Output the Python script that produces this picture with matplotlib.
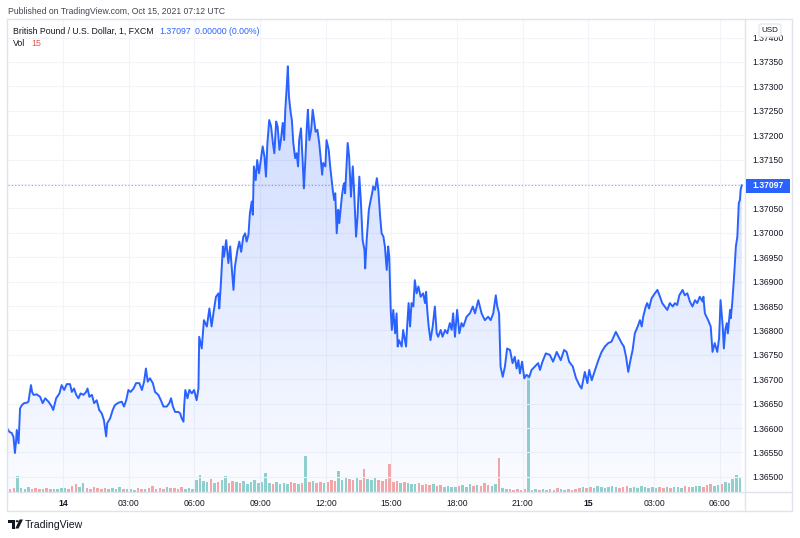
import numpy as np
import matplotlib
matplotlib.use("Agg")
import matplotlib.pyplot as plt
from matplotlib.patches import Rectangle, FancyBboxPatch, Polygon, Circle

# ==========================================================
# DATA
# time = minutes since 2021-10-14 00:00 UTC, 1-minute GBP/USD (FXCM)
# ==========================================================

minutes = [
    -153, -147, -141, -136, -132, -129, -127, -122, -118, -113,
    -107, -99, -95, -88, -85, -81, -72, -63, -56, -49,
    -40, -31, -27, -19, -10, -4, 3, 10, 19, 24,
    30, 36, 42, 48, 56, 63, 67, 72, 79, 85,
    92, 99, 106, 112, 118, 121, 129, 136, 142, 152,
    161, 167, 173, 179, 185, 193, 200, 209, 216, 222,
    227, 232, 238, 246, 252, 261, 268, 275, 284, 291,
    296, 301, 307, 316, 321, 325, 330, 332, 335, 341,
    346, 353, 359, 366, 371,
    373, 380, 386, 394, 401, 407, 412, 419, 426, 428,
    432, 438, 441, 447, 453, 458, 462, 467, 471, 478,
    483, 488, 494, 499, 503, 508, 512, 517, 520, 523,
    528, 532, 537, 543, 547, 552, 556, 560, 565, 570,
    575, 579, 584, 588, 593, 597, 602, 606, 609, 613,
    616, 619, 624, 627, 631, 636, 640, 644, 647, 652,
    656, 660, 664, 668, 671, 675, 680, 684, 688, 692,
    697, 702, 706, 710, 713, 719, 722,
    728, 732, 739, 743, 746, 750, 754, 757, 764, 768,
    771, 773, 780, 784, 789, 794, 797, 803, 807, 812,
    816, 821, 826, 828, 832, 838, 843, 847, 850, 855,
    860, 864, 869, 873, 878, 882, 887, 891, 894, 898,
    901, 905, 910, 914, 917, 921, 928, 932, 940, 943,
    947, 951, 955, 960, 964, 969, 974, 980, 987, 992,
    995, 998, 1002, 1007, 1013, 1019, 1024, 1028, 1035, 1040,
    1047, 1053, 1060, 1065, 1069, 1074, 1080, 1086, 1092, 1097,
    1106, 1115, 1123, 1129, 1138, 1147, 1156, 1165, 1172, 1179,
    1186, 1190, 1195, 1199, 1205, 1211, 1217, 1225, 1232, 1238,
    1243, 1248, 1252, 1258, 1264, 1270, 1278, 1284, 1293, 1302,
    1307, 1314, 1323, 1334, 1343, 1353, 1364, 1373, 1380, 1387,
    1397, 1406, 1415, 1421, 1430, 1437, 1442, 1449, 1458, 1467,
    1476, 1485, 1494, 1503, 1515, 1522, 1531, 1537, 1543, 1549,
    1555, 1561, 1567, 1575, 1581, 1586, 1590, 1597, 1601, 1606,
    1613, 1622, 1629, 1636, 1642, 1649, 1656, 1663, 1671, 1677,
    1683, 1689, 1698, 1704, 1711, 1718, 1725, 1732, 1738, 1745,
    1753, 1755, 1759, 1768, 1775, 1780, 1786, 1793, 1798, 1802,
    1808, 1811, 1815, 1819, 1822, 1828, 1830, 1834, 1839, 1844,
    1848, 1852, 1855, 1857, 1860,
]

prices = [
    1.36599, 1.36592, 1.36590, 1.36582, 1.36549, 1.36572, 1.36596, 1.36569, 1.36640, 1.36647,
    1.36651, 1.36652, 1.36654, 1.36688, 1.36674, 1.36668, 1.36669, 1.36664, 1.36651, 1.36661,
    1.36654, 1.36644, 1.36637, 1.36661, 1.36671, 1.36688, 1.36678, 1.36690, 1.36690, 1.36674,
    1.36681, 1.36668, 1.36661, 1.36671, 1.36668, 1.36674, 1.36681, 1.36664, 1.36668, 1.36651,
    1.36657, 1.36637, 1.36630, 1.36616, 1.36583, 1.36610, 1.36620, 1.36637, 1.36647, 1.36652,
    1.36654, 1.36644, 1.36657, 1.36678, 1.36674, 1.36681, 1.36692, 1.36692, 1.36678, 1.36695,
    1.36722, 1.36695, 1.36702, 1.36692, 1.36674, 1.36668, 1.36657, 1.36644, 1.36644, 1.36651,
    1.36661, 1.36644, 1.36633, 1.36633, 1.36630, 1.36620, 1.36613, 1.36647, 1.36678, 1.36661,
    1.36678, 1.36671, 1.36678, 1.36657, 1.36681,
    1.36787, 1.36763, 1.36821, 1.36808, 1.36845, 1.36808, 1.36835, 1.36869, 1.36876, 1.36845,
    1.36890, 1.36972, 1.36951, 1.36985, 1.36938, 1.36972, 1.36931, 1.36883, 1.36931, 1.36965,
    1.36982, 1.36961, 1.36992, 1.36999, 1.36982, 1.36996, 1.37040, 1.37064, 1.37037, 1.37136,
    1.37108, 1.37149, 1.37122, 1.37156, 1.37177, 1.37156, 1.37115, 1.37184, 1.37231, 1.37218,
    1.37184, 1.37163, 1.37228, 1.37218, 1.37170, 1.37190, 1.37225, 1.37190, 1.37252, 1.37300,
    1.37341, 1.37279, 1.37245, 1.37231, 1.37184, 1.37153, 1.37163, 1.37136, 1.37190, 1.37214,
    1.37156, 1.37091, 1.37149, 1.37218, 1.37252, 1.37190, 1.37211, 1.37252, 1.37231, 1.37207,
    1.37211, 1.37184, 1.37153, 1.37119, 1.37143, 1.37136, 1.37190,
    1.37170, 1.37136, 1.37088, 1.37067, 1.37081, 1.36999, 1.37047, 1.37020, 1.37074, 1.37095,
    1.37102, 1.37081, 1.37184, 1.37156, 1.37074, 1.37136, 1.37095, 1.36992, 1.37033, 1.37115,
    1.37067, 1.36985, 1.36965, 1.36927, 1.36985, 1.37047, 1.37067, 1.37081, 1.37095, 1.37088,
    1.37112, 1.37088, 1.37033, 1.36999, 1.36992, 1.36972, 1.36924, 1.36972, 1.36951, 1.36842,
    1.36801, 1.36842, 1.36794, 1.36835, 1.36767, 1.36780, 1.36767, 1.36801, 1.36767, 1.36808,
    1.36856, 1.36808, 1.36856, 1.36849, 1.36903, 1.36876, 1.36890, 1.36869, 1.36876, 1.36856,
    1.36879, 1.36842, 1.36808, 1.36780, 1.36808, 1.36849, 1.36794, 1.36787, 1.36801, 1.36787,
    1.36801, 1.36794, 1.36815, 1.36801, 1.36835, 1.36787, 1.36842, 1.36794, 1.36815, 1.36808,
    1.36828, 1.36835, 1.36849, 1.36835, 1.36862, 1.36835, 1.36821, 1.36828, 1.36821, 1.36835,
    1.36872, 1.36849, 1.36835, 1.36726, 1.36705, 1.36726, 1.36763, 1.36760, 1.36733, 1.36746,
    1.36722, 1.36739, 1.36712, 1.36736, 1.36702, 1.36709, 1.36705, 1.36719, 1.36726, 1.36733,
    1.36719, 1.36736, 1.36753, 1.36750, 1.36736, 1.36756, 1.36739, 1.36760, 1.36756, 1.36736,
    1.36726, 1.36702, 1.36688, 1.36681, 1.36715, 1.36692, 1.36719, 1.36698, 1.36719, 1.36739,
    1.36756, 1.36767, 1.36774, 1.36777, 1.36797, 1.36787, 1.36774, 1.36767, 1.36746, 1.36715,
    1.36739, 1.36760, 1.36794, 1.36808, 1.36821, 1.36808, 1.36828, 1.36849, 1.36856, 1.36845,
    1.36866, 1.36876, 1.36883, 1.36869, 1.36856, 1.36849, 1.36842, 1.36856, 1.36849, 1.36856,
    1.36852, 1.36872, 1.36883, 1.36872, 1.36876, 1.36859, 1.36849, 1.36862, 1.36856, 1.36869,
    1.36859, 1.36869, 1.36835, 1.36821, 1.36808, 1.36756, 1.36774, 1.36756, 1.36784, 1.36862,
    1.36808, 1.36763, 1.36801, 1.36815, 1.36794, 1.36842, 1.36825, 1.36856, 1.36910, 1.36972,
    1.36992, 1.37061, 1.37067, 1.37088, 1.37097,
]

# volume, one value per 10-minute slot starting at 21:30 Oct 13
vol_first_minute = -150
vol_slot = 10
volume = [
    3, 4, 16, 4, 3, 5, 3, 4, 3, 3, 4, 3, 3, 3, 4,
    4, 3, 6, 8, 5, 9,
    4, 3, 5, 4, 3, 4,
    3, 4, 3, 5, 3, 3,
    3, 2, 4, 3, 3, 4,
    6, 3, 4, 3, 5, 4,
    4, 3, 5, 3, 4, 3,
    12, 17, 11, 10, 13, 9,
    10, 12, 16, 9, 11, 10,
    9, 11, 8, 10, 12, 9,
    10, 19, 9, 8, 10, 8,
    9, 8, 10, 9, 8, 9,
    36, 10, 11, 9, 10, 9,
    10, 12, 11, 21, 12, 15,
    13, 12, 14, 12, 23, 13,
    12, 14, 12, 11, 13, 28,
    10, 11, 9, 10, 9, 8,
    8, 9, 7, 8, 7, 8,
    6, 7, 5, 6, 5, 5,
    6, 7, 5, 8, 6, 7,
    6, 9, 7, 6, 8, 34,
    4, 3, 3, 2, 3, 2,
    3, 116, 2, 3, 2, 3,
    2, 3, 2, 4, 3, 2,
    3, 2, 3, 4, 5, 4,
    5, 4, 6, 5, 4, 5,
    6, 5, 4, 5, 6, 4,
    5, 4, 6, 5, 4, 5,
    4, 5, 4, 5, 4, 5,
    5, 4, 6, 5, 5, 6,
    6, 5, 7, 8, 6, 7,
    8, 10, 9, 13, 17, 15,
]

last_price = 1.37097
last_volume = 15

price_ticks = [
    1.36500, 1.36550, 1.36600, 1.36650, 1.36700, 1.36750, 1.36800,
    1.36850, 1.36900, 1.36950, 1.37000, 1.37050, 1.37100, 1.37150,
    1.37200, 1.37250, 1.37300, 1.37350, 1.37400,
]
time_ticks = [0, 180, 360, 540, 720, 900, 1080, 1260, 1440, 1620, 1800]
time_labels = ["14", "03:00", "06:00", "09:00", "12:00", "15:00",
               "18:00", "21:00", "15", "03:00", "06:00"]

# ==========================================================
# STYLE
# ==========================================================

W, H = 800, 538
BLUE = "#2962ff"
UP = "#26a69a"
DOWN = "#ef5350"
GRID = "#f2f4f9"
BORDER = "#e0e3eb"
TEXT = "#131722"

plt.rcParams["font.family"] = ["Liberation Sans", "DejaVu Sans"]

# pane edges in pixels (from top-left)
L, R, T, B = 8, 745, 19, 492


def fx(x):
    return x / W


def fy(y):
    return 1 - y / H


fig = plt.figure(figsize=(W / 100, H / 100), dpi=100)
fig.patch.set_facecolor("white")

rect = [fx(L), fy(B), (R - L) / W, (B - T) / H]
xlim = (-151, 1869)

# ==========================================================
# VOLUME (bottom layer)
# ==========================================================

vax = fig.add_axes(rect)
vax.set_xlim(*xlim)
vax.set_ylim(0, B - T)
vax.axis("off")

vol_t = np.arange(len(volume)) * vol_slot + vol_first_minute
p_open = np.interp(vol_t, minutes, prices)
p_close = np.interp(vol_t + vol_slot, minutes, prices)
vol_colors = [UP if c >= o else DOWN for o, c in zip(p_open, p_close)]

vax.bar(vol_t + vol_slot / 2, volume, width=vol_slot * 0.7,
        color=vol_colors, alpha=0.5, linewidth=0)

# ==========================================================
# PRICE PANE
# ==========================================================

ax = fig.add_axes(rect)
ax.patch.set_visible(False)
ax.set_xlim(*xlim)
ax.set_ylim(1.36469, 1.37438)

for t in time_ticks:
    ax.axvline(t, color=GRID, lw=0.8, zorder=0)
for p in price_ticks:
    ax.axhline(p, color=GRID, lw=0.8, zorder=0)

# area gradient clipped to the series
y0, y1 = ax.get_ylim()
alpha = np.linspace(0.02, 0.24, 256).reshape(-1, 1)
img = np.zeros((256, 1, 4))
img[..., 0] = 41 / 255
img[..., 1] = 98 / 255
img[..., 2] = 1.0
img[..., 3] = alpha[:, 0:1]
grad = ax.imshow(img, extent=[xlim[0], xlim[1], y0, 1.37341],
                 origin="lower", aspect="auto", zorder=1,
                 interpolation="bilinear")
verts = [(minutes[0], y0)] + list(zip(minutes, prices)) + [(minutes[-1], y0)]
clip = Polygon(verts, closed=True, facecolor="none", edgecolor="none")
ax.add_patch(clip)
grad.set_clip_path(clip)
ax.set_ylim(y0, y1)

ax.plot(minutes, prices, color=BLUE, lw=1.4, zorder=3,
        solid_joinstyle="round")

ax.axhline(last_price, color=BLUE, lw=0.8, ls=(0, (1, 2)),
           alpha=0.6, zorder=2)

for s in ax.spines.values():
    s.set_visible(False)

ax.yaxis.tick_right()
ax.set_yticks(price_ticks)
ax.set_yticklabels([f"{p:.5f}" for p in price_ticks])
ax.tick_params(axis="y", length=0, pad=5, labelsize=6.2, labelcolor=TEXT)

ax.set_xticks(time_ticks)
ax.set_xticklabels(time_labels)
ax.tick_params(axis="x", length=0, pad=5, labelsize=6.2, labelcolor=TEXT)
for lab in ax.get_xticklabels():
    if ":" not in lab.get_text():
        lab.set_fontweight("bold")

# ==========================================================
# FRAME, LABELS, DECORATION
# ==========================================================

fig.add_artist(Rectangle((fx(7), fy(511)), (792 - 7) / W, (511 - 19) / H,
                         transform=fig.transFigure, facecolor="none",
                         edgecolor=BORDER, lw=1, zorder=4))
fig.add_artist(plt.Line2D([fx(R), fx(R)], [fy(19), fy(511)],
                          transform=fig.transFigure, color=BORDER, lw=1,
                          zorder=4))
fig.add_artist(plt.Line2D([fx(7), fx(792)], [fy(B), fy(B)],
                          transform=fig.transFigure, color=BORDER, lw=1,
                          zorder=4))

# last price tag
fig.add_artist(Rectangle((fx(746), fy(193)), 44 / W, 14 / H,
                         transform=fig.transFigure, facecolor=BLUE,
                         edgecolor="none", zorder=6))
fig.text(fx(752), fy(186), f"{last_price:.5f}", color="white",
         fontsize=6.2, fontweight="bold", va="center", ha="left", zorder=7)

# currency box
fig.add_artist(FancyBboxPatch((fx(759), fy(37)), 22 / W, 13 / H,
                              boxstyle="round,pad=0,rounding_size=0.004",
                              transform=fig.transFigure, facecolor="white",
                              edgecolor=BORDER, lw=0.8, zorder=6))
fig.text(fx(770), fy(30.5), "USD", color=TEXT, fontsize=5.8,
         va="center", ha="center", zorder=7)

# header and legend
fig.text(fx(8), fy(11.5), "Published on TradingView.com, Oct 15, 2021 07:12 UTC",
         color="#434651", fontsize=6.2, va="center", ha="left")
fig.text(fx(13), fy(31.5), "British Pound / U.S. Dollar, 1, FXCM",
         color=TEXT, fontsize=6.3, va="center", ha="left")
fig.text(fx(159), fy(31.5), f"{last_price:.5f}", color=BLUE,
         fontsize=6.3, va="center", ha="left")
fig.text(fx(195), fy(31.5), "0.00000 (0.00%)", color=BLUE,
         fontsize=6.3, va="center", ha="left")
fig.text(fx(13), fy(44), "Vol", color=TEXT, fontsize=6.3,
         va="center", ha="left")
fig.text(fx(31), fy(44), str(last_volume), color=DOWN, fontsize=6.3,
         va="center", ha="left")

# TradingView logo
logo = dict(transform=fig.transFigure, facecolor=TEXT, edgecolor="none")
fig.add_artist(Rectangle((fx(8), fy(522.5)), 7 / W, 3 / H, **logo))
fig.add_artist(Rectangle((fx(11.5), fy(528.5)), 3 / W, 9 / H, **logo))
fig.add_artist(Circle((fx(17.2), fy(521.2)), 1.5 / W, **logo))
fig.add_artist(Polygon([(fx(19.5), fy(519.5)), (fx(23), fy(519.5)),
                        (fx(18.5), fy(528.5)), (fx(15.3), fy(528.5))],
                       closed=True, **logo))
fig.text(fx(25), fy(524.5), "TradingView", color=TEXT, fontsize=7.6,
         va="center", ha="left")

fig.savefig("out.png", dpi=100)
